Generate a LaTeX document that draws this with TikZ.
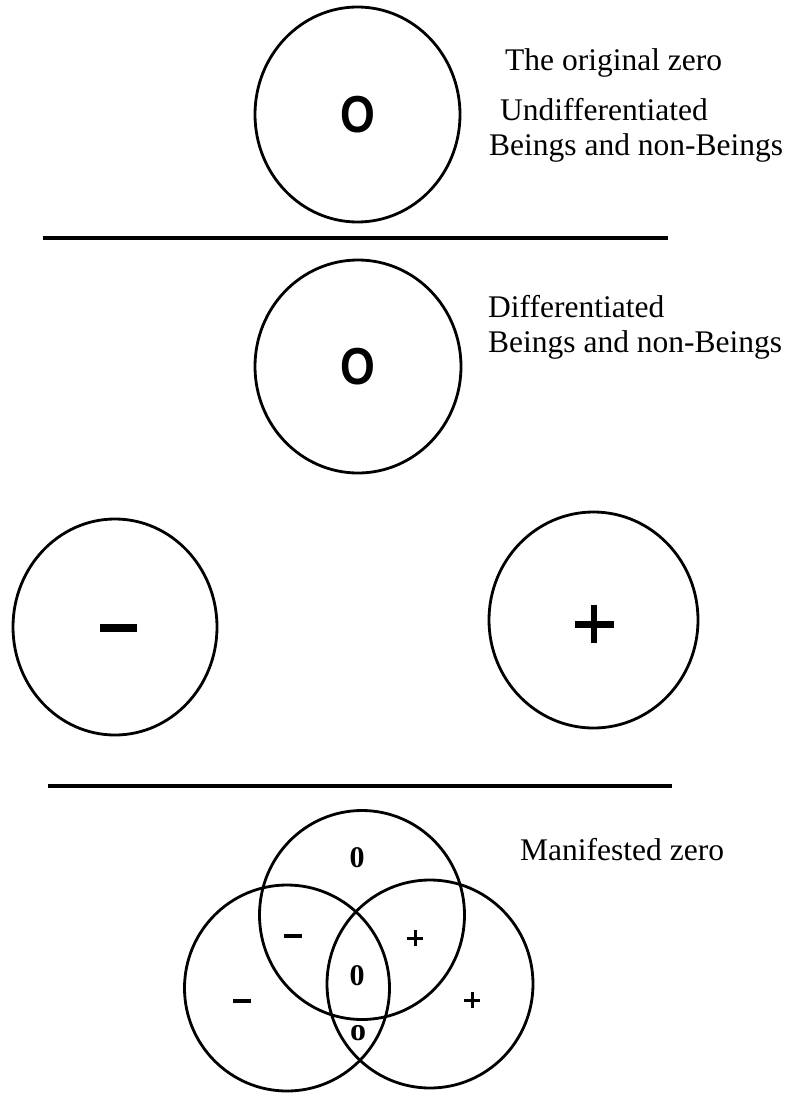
\documentclass[tikz,border=0pt]{standalone}
\usepackage{fontspec}
\setmainfont{Liberation Serif}
\newfontfamily\symfont{Liberation Sans}
\begin{document}
\begin{tikzpicture}[x=1pt,y=-1pt,
  ring/.style={line width=2.8pt},
  rule/.style={line width=3.2pt},
  lab/.style={anchor=base west,inner sep=0pt,font=\fontsize{31.5}{36}\selectfont},
  bigo/.style={inner sep=0pt,font=\symfont\bfseries\fontsize{52}{52}\selectfont},
  vlab/.style={inner sep=0pt,font=\bfseries\fontsize{30}{30}\selectfont},
  sign/.style={line width=4pt}]
\useasboundingbox (0,0) rectangle (789,1093);
% panel 1
\coordinate (c1) at (357.5,114.5);
\draw[ring] (c1) ellipse [x radius=102.5, y radius=107.5];
\node[bigo] (o1) at (c1) {\scalebox{0.86}[1]{O}};
\node[lab] (t1) at (505,70) {The original zero};
\node[lab] (t2) at (500,120) {Undifferentiated};
\node[lab] (t3) at (489,155) {Beings and non-Beings};
\coordinate (r1a) at (43,238); \coordinate (r1b) at (668,238);
\draw[rule] (r1a) -- (r1b);
% panel 2
\coordinate (c2) at (358,366.5);
\draw[ring] (c2) ellipse [x radius=103, y radius=106.5];
\node[bigo] (o2) at (c2) {\scalebox{0.86}[1]{O}};
\node[lab] (t4) at (488,317) {Differentiated};
\node[lab] (t5) at (488,352) {Beings and non-Beings};
\coordinate (cl) at (115,627);
\draw[ring] (cl) ellipse [x radius=102, y radius=108];
\coordinate (ma) at (100,628); \coordinate (mb) at (137,628);
\draw[line width=8pt] (ma) -- (mb);
\coordinate (cr) at (593.5,620);
\draw[ring] (cr) ellipse [x radius=104.5, y radius=108];
\coordinate (pa) at (575,624); \coordinate (pb) at (614,624);
\coordinate (pc) at (594,605); \coordinate (pd) at (594,643);
\draw[line width=7pt] (pa) -- (pb);
\draw[line width=6.5pt] (pc) -- (pd);
\coordinate (r2a) at (48,786); \coordinate (r2b) at (672,786);
\draw[rule] (r2a) -- (r2b);
% panel 3
\coordinate (vt) at (362,915);
\coordinate (vl) at (287,988);
\coordinate (vr) at (430,984);
\draw[ring] (vt) ellipse [x radius=102.5, y radius=104.5];
\draw[ring] (vl) ellipse [x radius=102.5, y radius=103];
\draw[ring] (vr) ellipse [x radius=103, y radius=104];
\node[vlab] (v1) at (357,858) {0};
\coordinate (m1a) at (284,936); \coordinate (m1b) at (302,936);
\draw[sign] (m1a) -- (m1b);
\coordinate (p1a) at (407,938); \coordinate (p1b) at (423,938);
\coordinate (p1c) at (415,930); \coordinate (p1d) at (415,946);
\draw[line width=3pt] (p1a) -- (p1b) (p1c) -- (p1d);
\node[vlab] (v4) at (357,976) {0};
\coordinate (m2a) at (233,1001); \coordinate (m2b) at (251,1001);
\draw[sign] (m2a) -- (m2b);
\coordinate (p2a) at (464,1000); \coordinate (p2b) at (480,1000);
\coordinate (p2c) at (472,992); \coordinate (p2d) at (472,1008);
\draw[line width=3pt] (p2a) -- (p2b) (p2c) -- (p2d);
\node[vlab,font=\bfseries\fontsize{32}{32}\selectfont] (v7) at (358,1033) {o};
\node[lab] (t6) at (520,860) {Manifested zero};
\end{tikzpicture}
\end{document}
